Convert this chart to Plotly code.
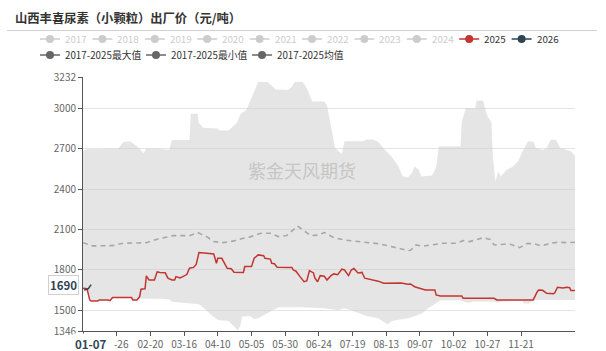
import plotly.graph_objects as go

# ---------------- data ----------------
YEAR = "2024"  # dummy leap year: the axis shows MM-DD only (366 days)

tick_dates = ["01-01", "01-26", "02-20", "03-16", "04-10", "05-05", "05-30",
              "06-24", "07-19", "08-13", "09-07", "10-02", "10-27", "11-21"]
# as visible in the reference: the 01-01 label and the "01" of 01-26 sit under the pointer label
tick_labels = ["", "\u00a0\u00a0\u00a0\u00a0-26", "02-20", "03-16", "04-10", "05-05", "05-30",
               "06-24", "07-19", "08-13", "09-07", "10-02", "10-27", "11-21"]
y_ticks = [1346, 1500, 1800, 2100, 2400, 2700, 3000, 3232]

max_dates = ["01-01", "01-03", "01-27", "01-31", "02-05", "02-12", "02-15", "02-17",
             "02-27", "03-05", "03-07", "03-20", "03-21", "03-26", "03-27", "03-30",
             "04-10", "04-11", "04-18", "04-24", "04-27", "05-01", "05-06", "05-10",
             "05-17", "05-23", "06-01", "06-04", "06-06", "06-12", "06-15", "06-19",
             "06-28", "06-30", "07-03", "07-06", "07-11", "07-13", "07-27", "07-29",
             "08-03", "08-07", "08-12", "08-17", "08-22", "08-25", "08-29", "09-01",
             "09-03", "09-06", "09-08", "09-12", "09-16", "09-19", "09-21", "10-07",
             "10-08", "10-11", "10-18", "10-19", "10-24", "10-25", "10-27", "10-30",
             "10-31", "11-02", "11-04", "11-06", "11-10", "11-15", "11-19", "11-22",
             "11-26", "11-30", "12-02", "12-07", "12-10", "12-13", "12-17", "12-20",
             "12-25", "12-28", "12-31"]
max_vals = [2680, 2695, 2700, 2750, 2755, 2700, 2665, 2700,
            2700, 2690, 2765, 2765, 2960, 2960, 2890, 2855,
            2850, 2835, 2835, 2890, 2960, 2985, 3100, 3195,
            3195, 3140, 3135, 3160, 3195, 3195, 3150, 3050,
            3050, 3020, 2865, 2705, 2660, 2755, 2755, 2768,
            2768, 2750, 2690, 2640, 2570, 2495, 2485, 2520,
            2567, 2545, 2493, 2495, 2500, 2560, 2716, 2716,
            2900, 3000, 3000, 3057, 3057, 3010, 2940, 2900,
            2640, 2455, 2530, 2493, 2540, 2567, 2610, 2678,
            2753, 2753, 2704, 2690, 2704, 2768, 2765, 2704,
            2690, 2680, 2646]

min_dates = ["01-01", "01-05", "01-07", "01-12", "01-13", "01-20", "01-23", "02-05",
             "02-07", "02-10", "02-12", "02-17", "02-27", "03-05", "03-07", "03-20",
             "03-27", "03-29", "03-31", "04-05", "04-10", "04-18", "04-23", "04-25",
             "04-27", "04-28", "05-04", "05-07", "05-10", "05-25", "06-11", "06-28",
             "07-08", "07-13", "07-18", "07-24", "07-30", "08-07", "08-12", "08-14",
             "08-17", "08-22", "08-29", "09-03", "09-09", "09-13", "09-19", "09-22",
             "10-07", "10-09", "10-13", "10-17", "11-01", "11-03", "11-07", "11-22",
             "11-23", "11-27", "11-30", "12-03", "12-31"]
min_vals = [1640, 1640, 1575, 1568, 1577, 1577, 1594, 1594,
            1577, 1577, 1589, 1585, 1585, 1580, 1564, 1552,
            1545, 1530, 1515, 1465, 1428, 1420, 1366, 1350,
            1395, 1453, 1455, 1436, 1440, 1522, 1522, 1515,
            1500, 1515, 1500, 1477, 1455, 1440, 1403, 1395,
            1418, 1430, 1440, 1455, 1480, 1515, 1552, 1575,
            1575, 1565, 1555, 1565, 1565, 1555, 1565, 1570,
            1550, 1550, 1570, 1576, 1576]

mean_dates = ["01-01", "01-08", "01-23", "01-31", "02-12", "02-17", "02-25", "03-03",
              "03-08", "03-20", "03-26", "04-02", "04-07", "04-14", "04-22", "04-29",
              "05-04", "05-12", "05-19", "05-25", "05-31", "06-05", "06-08", "06-13",
              "06-18", "06-23", "06-28", "07-05", "07-13", "07-23", "07-30", "08-07",
              "08-14", "08-22", "08-29", "08-31", "09-04", "09-09", "09-17", "09-24",
              "10-04", "10-09", "10-14", "10-19", "10-24", "10-29", "11-01", "11-08",
              "11-13", "11-20", "11-25", "11-30", "12-06", "12-12", "12-18", "12-25",
              "12-31"]
mean_vals = [2002, 1978, 1980, 1998, 2000, 2002, 2028, 2040,
             2054, 2054, 2077, 2045, 2010, 2002, 2015, 2035,
             2045, 2072, 2072, 2047, 2055, 2097, 2126, 2090,
             2054, 2058, 2077, 2040, 2022, 2010, 2002, 1995,
             1980, 1960, 1943, 1945, 1985, 1975, 1985, 1998,
             1998, 2017, 2010, 2025, 2039, 2025, 1985, 1990,
             1990, 1965, 1995, 1995, 1978, 1995, 2005, 2002,
             2005]

y2025_dates = ["01-01", "01-04", "01-06", "01-07", "01-12", "01-13", "01-19", "01-21",
               "01-23", "02-06", "02-07", "02-10", "02-12", "02-13", "02-16", "02-17",
               "02-19", "02-23", "02-25", "02-27", "03-02", "03-04", "03-07", "03-09",
               "03-10", "03-13", "03-15", "03-18", "03-20", "03-23", "03-25", "03-27",
               "03-31", "04-07", "04-09", "04-10", "04-13", "04-17", "04-20", "04-22",
               "04-29", "04-30", "05-05", "05-07", "05-10", "05-14", "05-15", "05-19",
               "05-20", "05-22", "05-24", "06-04", "06-05", "06-07", "06-10", "06-13",
               "06-15", "06-17", "06-20", "06-21", "06-23", "06-25", "06-28", "06-30",
               "07-03", "07-05", "07-08", "07-11", "07-13", "07-16", "07-18", "07-20",
               "07-23", "07-26", "07-28", "07-31", "08-03", "08-07", "08-11", "08-18",
               "08-21", "08-24", "08-29", "08-31", "09-03", "09-07", "09-11", "09-18",
               "09-19", "09-22", "10-08", "10-09", "11-01", "11-03", "11-30", "12-03",
               "12-04", "12-07", "12-10", "12-15", "12-16", "12-18", "12-22", "12-25",
               "12-27", "12-28", "12-31"]
y2025_vals = [1663, 1660, 1577, 1569, 1569, 1577, 1577, 1572,
              1594, 1594, 1577, 1577, 1600, 1656, 1660, 1755,
              1725, 1725, 1785, 1780, 1778, 1738, 1725, 1725,
              1750, 1740, 1750, 1765, 1812, 1818, 1840, 1928,
              1925, 1918, 1849, 1886, 1886, 1812, 1808, 1782,
              1780, 1824, 1824, 1886, 1911, 1905, 1886, 1880,
              1849, 1845, 1820, 1818, 1799, 1790, 1750, 1712,
              1718, 1794, 1777, 1740, 1712, 1757, 1753, 1725,
              1757, 1770, 1764, 1805, 1799, 1757, 1799, 1810,
              1777, 1781, 1738, 1732, 1725, 1716, 1700, 1700,
              1705, 1703, 1694, 1695, 1675, 1664, 1651, 1651,
              1614, 1606, 1606, 1589, 1589, 1577, 1577, 1638,
              1651, 1648, 1626, 1622, 1630, 1671, 1665, 1671,
              1668, 1646, 1646]

y2026_dates = ["01-02", "01-04", "01-05", "01-06", "01-07"]
y2026_vals = [1650, 1655, 1660, 1675, 1690]

legend_row1 = ["2017", "2018", "2019", "2020", "2021", "2022", "2023", "2024", "2025", "2026"]
legend_row2 = ["2017-2025最大值", "2017-2025最小值", "2017-2025均值"]

# ---------------- styling ----------------
FONT = "Noto Sans CJK SC"
RED = "#c23531"
NAVY = "#2f4554"
L, T, W, H = 83, 77, 492, 254


def d(lst):
    return [f"{YEAR}-{s}" for s in lst]


def px(x):
    return (x - L) / W


def py(y):
    return (T + H - y) / H


fig = go.Figure()

fig.add_trace(go.Scatter(x=d(min_dates), y=min_vals, name="2017-2025最小值",
                         mode="lines", line=dict(width=0, color="#666"),
                         hoverinfo="skip"))
fig.add_trace(go.Scatter(x=d(max_dates), y=max_vals, name="2017-2025最大值",
                         mode="lines", line=dict(width=0, color="#666"),
                         fill="tonexty", fillcolor="rgba(205,205,205,0.52)"))
fig.add_trace(go.Scatter(x=d(mean_dates), y=mean_vals, name="2017-2025均值",
                         mode="lines", line=dict(width=1.6, color="#a8a8a8", dash="5px,4px")))
fig.add_trace(go.Scatter(x=d(y2025_dates), y=y2025_vals, name="2025",
                         mode="lines", line=dict(width=1.5, color=RED)))
fig.add_trace(go.Scatter(x=d(y2026_dates), y=y2026_vals, name="2026",
                         mode="lines", line=dict(width=1.5, color=NAVY)))

annotations = []
shapes = []

# title + separator
annotations.append(dict(text="<b>山西丰喜尿素（小颗粒）出厂价（元/吨）</b>", xref="paper", yref="paper",
                        x=px(13), y=py(18), xanchor="left", yanchor="middle", showarrow=False,
                        font=dict(family=FONT, size=12.3, color="#333")))
shapes.append(dict(type="line", xref="paper", yref="paper", x0=px(7), x1=px(597),
                   y0=py(30.5), y1=py(30.5), line=dict(color="#d2d2d2", width=1)))


# legend
def legend_item(cx, cy, label, icon_color, text_color):
    shapes.append(dict(type="line", xref="paper", yref="paper", x0=px(cx - 10), x1=px(cx + 10),
                       y0=py(cy), y1=py(cy), line=dict(color=icon_color, width=1.5)))
    shapes.append(dict(type="circle", xref="paper", yref="paper", x0=px(cx - 4), x1=px(cx + 4),
                       y0=py(cy + 4), y1=py(cy - 4), fillcolor=icon_color,
                       line=dict(color=icon_color, width=0)))
    annotations.append(dict(text=label, xref="paper", yref="paper", x=px(cx + 13), y=py(cy),
                            xanchor="left", yanchor="middle", showarrow=False,
                            font=dict(family=FONT, size=9.8, color=text_color)))


for i, lab in enumerate(legend_row1):
    if lab == "2025":
        ic, tc = RED, "#333"
    elif lab == "2026":
        ic, tc = NAVY, "#333"
    else:
        ic, tc = "#cccccc", "#cccccc"
    legend_item(50 + 52.4 * i, 39, lab, ic, tc)
for i, lab in enumerate(legend_row2):
    legend_item([50, 156, 262][i], 55, lab, "#666", "#333")

# watermark
annotations.append(dict(text="紫金天风期货", xref="paper", yref="paper", x=px(302), y=py(170),
                        xanchor="center", yanchor="middle", showarrow=False,
                        font=dict(family=FONT, size=18, color="#c6c6c6")))

# axis pointer labels
annotations.append(dict(text="<b>%d</b>" % y2026_vals[-1], xref="paper", yref="y", x=0,
                        y=y2026_vals[-1], xanchor="right", yanchor="middle", xshift=-4,
                        showarrow=False, bgcolor="white", bordercolor="#d0d0d0", borderwidth=1,
                        borderpad=1, font=dict(family=FONT, size=11.5, color=NAVY)))
annotations.append(dict(text="<b>%s</b>" % y2026_dates[-1], xref="x", yref="paper",
                        x=d(y2026_dates)[-1], y=0, xanchor="center", yanchor="top", yshift=-2,
                        showarrow=False, bgcolor="white", borderpad=2,
                        font=dict(family=FONT, size=11.5, color=NAVY)))

fig.update_layout(
    width=606, height=351,
    margin=dict(l=L, r=606 - L - W, t=T, b=351 - T - H, autoexpand=False),
    paper_bgcolor="white", plot_bgcolor="white",
    showlegend=False,
    font=dict(family=FONT, size=10, color="#666"),
    xaxis=dict(type="date", range=[f"{YEAR}-01-01", f"{YEAR}-12-31"],
               tickvals=d(tick_dates), ticktext=tick_labels, automargin=False,
               showgrid=False, showline=True, linecolor="#555", linewidth=1,
               ticks="outside", ticklen=4, tickcolor="#555",
               tickfont=dict(family=FONT, size=10, color="#666"), zeroline=False),
    yaxis=dict(range=[y_ticks[0], y_ticks[-1]], tickvals=y_ticks, automargin=False,
               showgrid=True, gridcolor="#e4e4e4", gridwidth=1,
               showline=True, linecolor="#555", linewidth=1,
               ticks="outside", ticklen=4, tickcolor="#555",
               tickfont=dict(family=FONT, size=10, color="#666"), zeroline=False),
    annotations=annotations,
    shapes=shapes,
)

fig.write_html("out.html")
